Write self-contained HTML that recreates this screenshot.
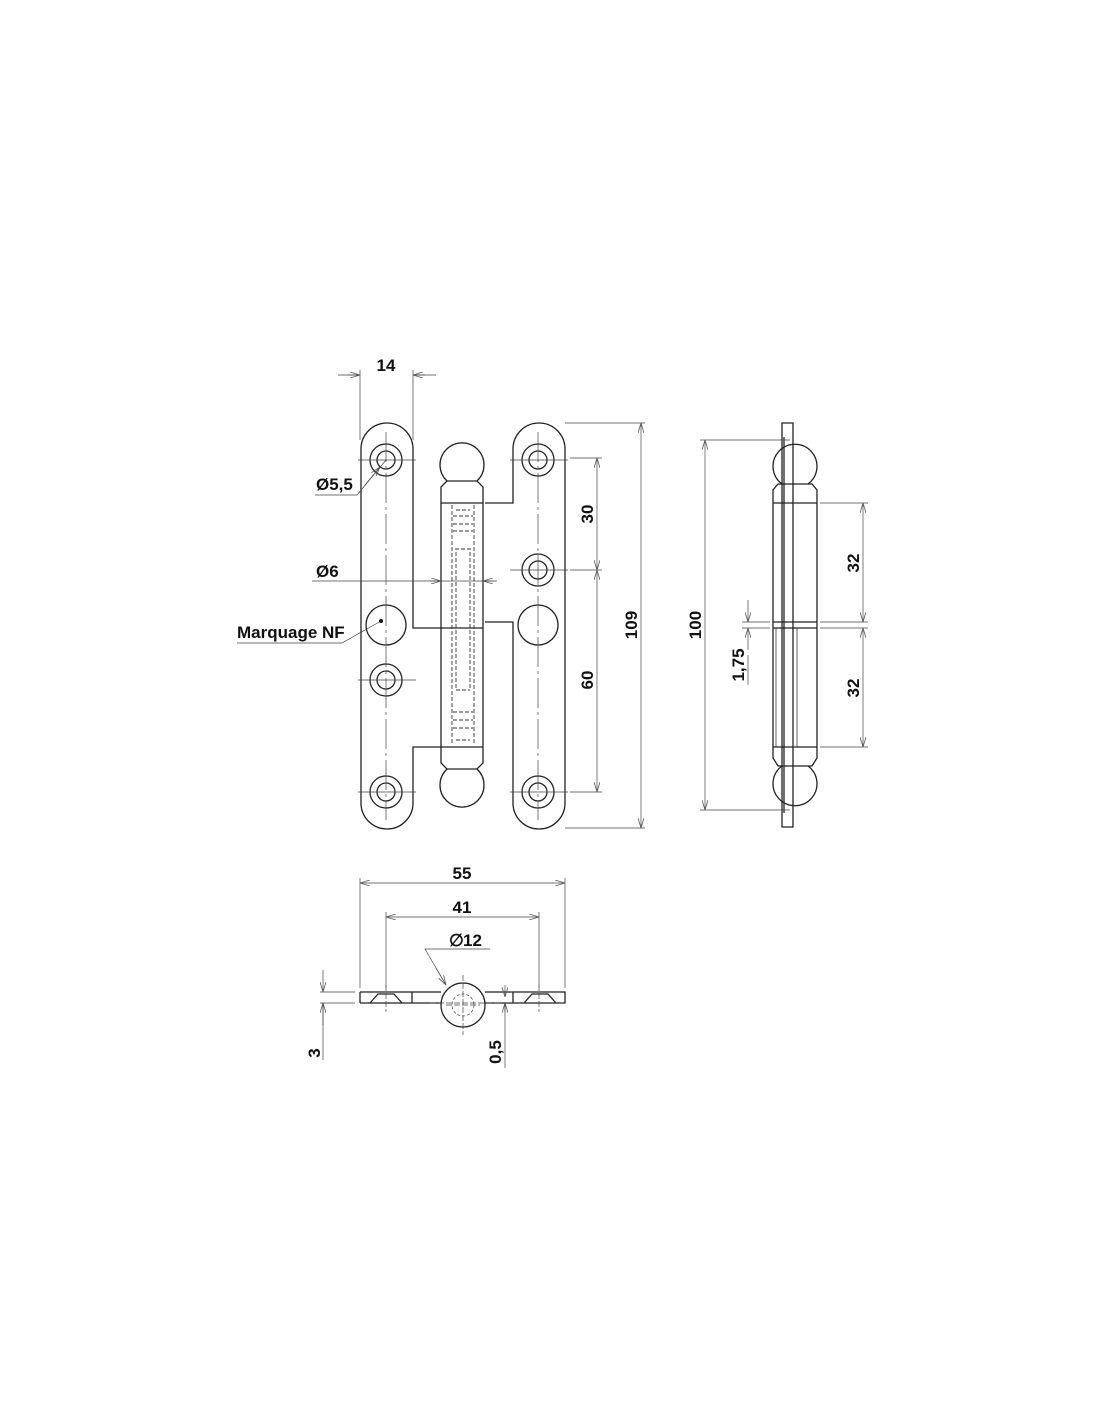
<!DOCTYPE html>
<html><head><meta charset="utf-8"><style>
html,body{margin:0;padding:0;background:#fff;}
svg{display:block;}
text{font-family:"Liberation Sans",Arial,sans-serif;font-weight:bold;fill:#111;}
</style></head><body>
<svg width="1100" height="1422" viewBox="0 0 1100 1422" xmlns="http://www.w3.org/2000/svg">
<defs>
<marker id="a" viewBox="0 0 10 6" refX="10" refY="3" markerWidth="10" markerHeight="6" orient="auto-start-reverse" markerUnits="userSpaceOnUse"><path d="M0,0 L10,3 L0,6" fill="none" stroke="#555" stroke-width="0.8"/></marker>
</defs>
<g fill="none" stroke="#222" stroke-width="1.3">
<!-- left leaf -->
<path d="M361,449 A26,26 0 0 1 413,449 L413,628 L441,628 M441,747 L413,747 L413,803 A26,26 0 0 1 361,803 L361,449"/>
<!-- right leaf -->
<path d="M485,503 L513,503 L513,449 A26,26 0 0 1 565,449 L565,803 A26,26 0 0 1 513,803 L513,622 L485,622"/>
<!-- holes -->
<circle cx="386" cy="460" r="16"/><circle cx="386" cy="460" r="9"/>
<circle cx="386" cy="680" r="16"/><circle cx="386" cy="680" r="9"/>
<circle cx="386" cy="792" r="16"/><circle cx="386" cy="792" r="9"/>
<circle cx="538" cy="460" r="16"/><circle cx="538" cy="460" r="9"/>
<circle cx="538" cy="570" r="16"/><circle cx="538" cy="570" r="9"/>
<circle cx="538" cy="792" r="16"/><circle cx="538" cy="792" r="9"/>
<circle cx="386" cy="625" r="20"/><circle cx="538" cy="625" r="20"/>
<!-- pin -->
<path d="M447,481 A22,22 0 1 1 477,481"/>
<path d="M447,481 L441,487 L441,763 L447,769 L477,769 L483,763 L483,487 L477,481 Z"/>
<path d="M441,503 L483,503 M441,747 L483,747 M441,628 L483,628"/>
<path d="M447,769 A22,22 0 1 0 477,769"/>
</g>
<g fill="none" stroke="#333" stroke-width="0.9" stroke-dasharray="4,2">
<path d="M452,505 L452,745 M474,505 L474,745"/>
<path d="M456,510 L470,510 M453,516 L473,516 M453,524 L473,524 M453,531 L473,531 M455,549 L471,549 M456,552 L456,688 M470,552 L470,688 M456,690 L470,690"/>
<path d="M453,712 L473,712 M453,720 L473,720 M453,728 L473,728 M456,740 L470,740"/>
</g>
<g fill="none" stroke="#444" stroke-width="0.7">
<path d="M386,432 L386,820 M538,432 L538,820" stroke-dasharray="30,4,3,4"/>
<path d="M358,460 L416,460 M358,680 L416,680 M358,792 L416,792 M510,460 L568,460 M510,570 L568,570 M510,792 L568,792"/>
<path d="M360,370 L360,440 M413,370 L413,440"/>
<path d="M338,375 L360,375 M413,375 L436,375"/>
<path d="M348,375 L360,375" marker-end="url(#a)"/><path d="M425,375 L413,375" marker-end="url(#a)"/>
<path d="M565,423 L645,423 M565,828 L645,828"/>
<path d="M641,423 L641,828" marker-start="url(#a)" marker-end="url(#a)"/>
<path d="M570,458 L602,458 M570,570 L602,570 M570,792 L602,792"/>
<path d="M597,458 L597,570" marker-start="url(#a)" marker-end="url(#a)"/>
<path d="M597,570 L597,792" marker-start="url(#a)" marker-end="url(#a)"/>
<path d="M312,581 L497,581"/>
<path d="M430,581 L441,581" marker-end="url(#a)"/><path d="M494,581 L483,581" marker-end="url(#a)"/>
<path d="M315,495 L357,495 L386,460"/>
<path d="M365,485 L380,467" marker-end="url(#a)"/>
<path d="M237,643 L342,643 L381,621"/>
</g>
<circle cx="381" cy="621" r="2" fill="#111"/>
<!-- side view -->
<g fill="none" stroke="#222" stroke-width="1.3">
<path d="M782,423 L793,423 L793,827 L782,827 Z M784,437 L784,813"/>
<path d="M782,484 A22,22 0 1 1 808,484 M782,766 A22,22 0 1 0 808,766"/>
<path d="M778,484 L812,484 L817,490 L817,758 L812,766 L778,766 L773,758 L773,490 Z"/>
<path d="M773,503 L817,503 M773,747 L817,747 M773,622 L817,622 M773,628 L817,628"/>
<path d="M776,628 L776,747 M797,628 L797,747" stroke-width="0.7"/>
</g>
<g fill="none" stroke="#444" stroke-width="0.7">
<path d="M700,440 L790,440 M700,810 L790,810"/>
<path d="M705,440 L705,810" marker-start="url(#a)" marker-end="url(#a)"/>
<path d="M820,503 L868,503 M820,622 L868,622 M820,628 L868,628 M820,747 L868,747"/>
<path d="M863,503 L863,622" marker-start="url(#a)" marker-end="url(#a)"/>
<path d="M863,628 L863,747" marker-start="url(#a)" marker-end="url(#a)"/>
<path d="M742,622 L770,622 M742,628 L770,628"/>
<path d="M748,600 L748,622" marker-end="url(#a)"/><path d="M748,650 L748,628" marker-end="url(#a)"/>
<path d="M748,655 L748,685"/>
</g>
<!-- bottom view -->
<g fill="none" stroke="#222" stroke-width="1.3">
<path d="M360,992 L441,992 M360,1003 L441,1003 M360,992 L360,1003 M485,992 L565,992 L565,1003 L485,1003"/>
<path d="M412,992 L412,1003 M513,992 L513,1003"/>
<path d="M370,1003 L378,994 L394,994 L402,1003 M524,1003 L532,994 L548,994 L556,1003"/>
<circle cx="463" cy="1005" r="22"/>
</g>
<g fill="none" stroke="#444" stroke-width="0.7">
<circle cx="463" cy="1005" r="11" stroke-dasharray="3,2"/>
<path d="M463,975 L463,1035 M446,1005 L480,1005 M386,985 L386,1012 M539,985 L539,1012" stroke-dasharray="6,2"/>
<path d="M360,878 L360,988 M565,878 L565,988 M386,912 L386,988 M539,912 L539,988"/>
<path d="M360,883 L565,883" marker-start="url(#a)" marker-end="url(#a)"/>
<path d="M386,917 L539,917" marker-start="url(#a)" marker-end="url(#a)"/>
<path d="M490,949 L425,949 L446,985"/>
<path d="M436,968 L446,985" marker-end="url(#a)"/>
<path d="M320,992 L355,992 M320,1003 L355,1003"/>
<path d="M323,970 L323,992" marker-end="url(#a)"/><path d="M323,1025 L323,1003" marker-end="url(#a)"/>
<path d="M323,1003 L323,1060"/>
<path d="M505,985 L505,997" marker-end="url(#a)"/><path d="M505,1012 L505,1003" marker-end="url(#a)"/>
<path d="M505,1003 L505,1068"/>
<path d="M430,1003 L500,1003" stroke-dasharray="6,2"/>
</g>
<g font-size="17">
<text x="386" y="371" text-anchor="middle">14</text>
<text x="316" y="490">Ø5,5</text>
<text x="316" y="577">Ø6</text>
<text x="237" y="638">Marquage NF</text>
<text transform="translate(593,514) rotate(-90)" text-anchor="middle">30</text>
<text transform="translate(593,680) rotate(-90)" text-anchor="middle">60</text>
<text transform="translate(637,625) rotate(-90)" text-anchor="middle">109</text>
<text transform="translate(701,625) rotate(-90)" text-anchor="middle">100</text>
<text transform="translate(744,665) rotate(-90)" text-anchor="middle">1,75</text>
<text transform="translate(859,563) rotate(-90)" text-anchor="middle">32</text>
<text transform="translate(859,688) rotate(-90)" text-anchor="middle">32</text>
<text x="462" y="879" text-anchor="middle">55</text>
<text x="462" y="913" text-anchor="middle">41</text>
<text x="449" y="946" font-weight="normal">∅</text><text x="463" y="946">12</text>
<text transform="translate(320,1053) rotate(-90)" text-anchor="middle">3</text>
<text transform="translate(501,1052) rotate(-90)" text-anchor="middle">0,5</text>
</g>
</svg>
</body></html>
